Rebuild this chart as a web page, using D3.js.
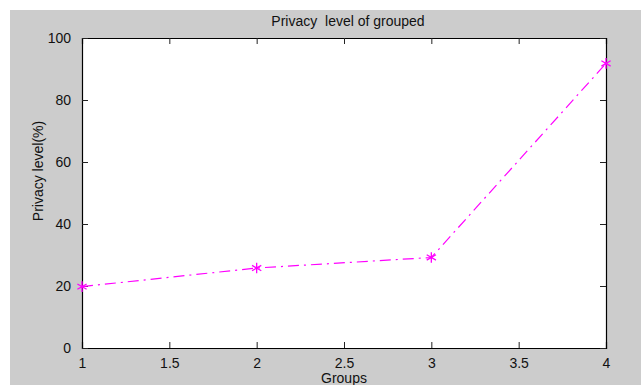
<!DOCTYPE html>
<html>
<head>
<meta charset="utf-8">
<script src="https://cdn.jsdelivr.net/npm/d3@7"></script>
<style>
  html, body { margin: 0; padding: 0; background: #fff; }
  text { font-family: "Liberation Sans", Arial, sans-serif; fill: #111; }
</style>
</head>
<body>
<div id="chart"></div>
<script>
// data
const groups = [1, 2, 3, 4];
const privacy = [19.8, 25.8, 29.2, 91.8];
const xTicks = [1, 1.5, 2, 2.5, 3, 3.5, 4];
const yTicks = [0, 20, 40, 60, 80, 100];

const width = 641, height = 385;
const margin = {top: 38, right: 35, bottom: 37, left: 82};
const plotW = width - margin.left - margin.right;
const plotH = height - margin.top - margin.bottom;

const svg = d3.select('#chart').append('svg')
    .attr('width', width)
    .attr('height', height);

// grey figure background, white strip on top and left
svg.append('rect')
    .attr('x', 10).attr('y', 10)
    .attr('width', width - 10).attr('height', height - 10)
    .attr('fill', '#cccccc');

const x = d3.scaleLinear().domain([1, 4]).range([0, plotW]);
const y = d3.scaleLinear().domain([0, 100]).range([plotH, 0]);

const g = svg.append('g').attr('transform', `translate(${margin.left},${margin.top})`);

g.append('rect')
    .attr('width', plotW).attr('height', plotH)
    .attr('fill', '#fff');

// inward ticks on all four sides (matlab box style)
const tickLen = 6;
const bottomAxis = g.append('g')
    .attr('transform', `translate(0,${plotH})`)
    .call(d3.axisBottom(x).tickValues(xTicks).tickSize(-tickLen).tickPadding(tickLen + 4)
        .tickFormat(d3.format('')));
const topAxis = g.append('g')
    .call(d3.axisTop(x).tickValues(xTicks).tickSize(-tickLen).tickFormat(''));
const leftAxis = g.append('g')
    .call(d3.axisLeft(y).tickValues(yTicks).tickSize(-tickLen).tickPadding(tickLen + 5));
const rightAxis = g.append('g')
    .attr('transform', `translate(${plotW},0)`)
    .call(d3.axisRight(y).tickValues(yTicks).tickSize(-tickLen).tickFormat(''));

[bottomAxis, topAxis, leftAxis, rightAxis].forEach(a => {
    a.select('.domain').attr('stroke', '#000').attr('stroke-width', 1.2);
    a.selectAll('.tick line').attr('stroke', '#222');
    a.selectAll('.tick text')
        .style('font-family', '"Liberation Sans", Arial, sans-serif')
        .style('font-size', '14px')
        .attr('fill', '#111');
});

// dash-dot magenta line
const line = d3.line()
    .x((d, i) => x(groups[i]))
    .y(d => y(d));

g.append('path')
    .datum(privacy)
    .attr('d', line)
    .attr('fill', 'none')
    .attr('stroke', '#ff00ff')
    .attr('stroke-width', 1.2)
    .attr('stroke-dasharray', '11,5,2,5');

// asterisk markers
const star = d3.symbol().type(d3.symbolAsterisk).size(80);
g.append('g')
    .selectAll('path')
    .data(privacy)
    .enter().append('path')
    .attr('transform', (d, i) => `translate(${x(groups[i])},${y(d)})`)
    .attr('d', star)
    .attr('fill', 'none')
    .attr('stroke', '#ff00ff')
    .attr('stroke-width', 1.3);

// title and axis labels
svg.append('text')
    .attr('x', 348).attr('y', 26)
    .attr('text-anchor', 'middle')
    .style('font-size', '14px')
    .style('white-space', 'pre')
    .text('Privacy  level of grouped');

svg.append('text')
    .attr('x', margin.left + plotW / 2).attr('y', 383)
    .attr('text-anchor', 'middle')
    .style('font-size', '14px')
    .text('Groups');

svg.append('text')
    .attr('transform', 'translate(43,171) rotate(-90)')
    .attr('text-anchor', 'middle')
    .style('font-size', '14px')
    .text('Privacy level(%)');
</script>
</body>
</html>
